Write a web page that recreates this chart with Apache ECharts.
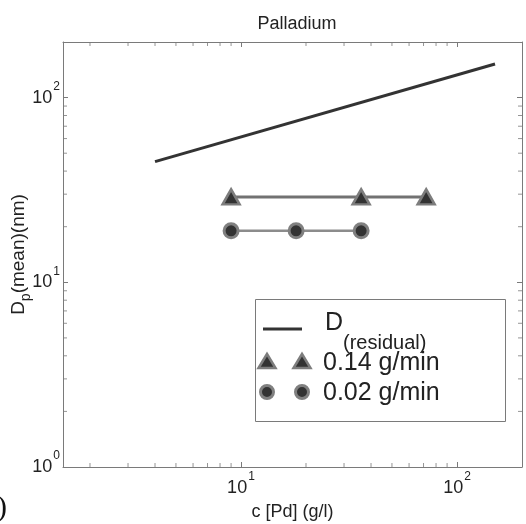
<!DOCTYPE html>
<html>
<head>
<meta charset="utf-8">
<script src="https://cdn.jsdelivr.net/npm/echarts@6/dist/echarts.min.js"></script>
<style>
html,body{margin:0;padding:0;background:#fff;}
#chart{width:526px;height:524px;}
</style>
</head>
<body>
<div id="chart"></div>
<script>
var xMin = 1.5, xMax = 200, yMin = 1, yMax = 200;

// D(residual)
var residualX = [4, 150];
var residualY = [45, 152];
// 0.14 g/min
var highX = [9, 36, 72];
var highY = [29, 29, 29];
// 0.02 g/min
var lowX = [9, 18, 36];
var lowY = [19, 19, 19];

// minor ticks (MATLAB style 2..9 per decade)
var xMinorTicks = [2, 3, 4, 5, 6, 7, 8, 9, 20, 30, 40, 50, 60, 70, 80, 90];
var yMinorTicks = [2, 3, 4, 5, 6, 7, 8, 9, 20, 30, 40, 50, 60, 70, 80, 90];

var font = "'Liberation Sans', Arial, sans-serif";
var axisColor = '#7a7a7a';

function pairs(xs, ys) {
    var out = [];
    for (var i = 0; i < xs.length; i++) out.push([xs[i], ys[i]]);
    return out;
}

function powLabel(v) {
    var e = Math.round(Math.log(v) / Math.LN10);
    if (Math.abs(Math.log(v) / Math.LN10 - e) > 1e-6) return '';
    return '{b|10}{s|' + e + '}';
}

var labelRich = {
    b: {fontSize: 18, fontFamily: font, color: '#222', verticalAlign: 'middle'},
    s: {fontSize: 12, fontFamily: font, color: '#222', verticalAlign: 'middle', padding: [0, 0, 22, 1]}
};

function tickSeries(data, size, offset) {
    return {
        type: 'scatter',
        data: data,
        symbol: 'rect',
        symbolSize: size,
        symbolOffset: offset,
        itemStyle: {color: axisColor},
        silent: true,
        clip: false,
        z: 1
    };
}

var bottomTicks = xMinorTicks.map(function (v) { return [v, yMin]; });
var topTicks = xMinorTicks.map(function (v) { return [v, yMax]; });
var leftTicks = yMinorTicks.map(function (v) { return [xMin, v]; });
var rightTicks = yMinorTicks.map(function (v) { return [xMax, v]; });

function logAxis(pos, min, max, showLabel) {
    return {
        type: 'log',
        logBase: 10,
        position: pos,
        min: min,
        max: max,
        axisLine: {show: true, onZero: false, lineStyle: {color: axisColor, width: 1}},
        axisTick: {show: true, inside: true, length: 5, lineStyle: {color: axisColor}},
        splitLine: {show: false},
        minorTick: {show: false},
        axisLabel: {show: showLabel, formatter: powLabel, rich: labelRich, margin: 4}
    };
}

var xBottom = logAxis('bottom', xMin, xMax, true);
xBottom.name = 'c [Pd] (g/l)';
xBottom.nameLocation = 'middle';
xBottom.nameGap = 36;
xBottom.nameMoveOverlap = false;
xBottom.nameTextStyle = {fontSize: 18, fontFamily: font, color: '#222'};

var yLeft = logAxis('left', yMin, yMax, true);
yLeft.axisLabel.margin = 3;
yLeft.name = 'D{sub|p}(mean)(nm)';
yLeft.nameLocation = 'middle';
yLeft.nameRotate = 90;
yLeft.nameGap = 30;
yLeft.nameMoveOverlap = false;
yLeft.nameTextStyle = {
    fontSize: 19, fontFamily: font, color: '#222',
    rich: {sub: {fontSize: 14, fontFamily: font, color: '#222', padding: [14, 0, 0, 0]}}
};

var chart = echarts.init(document.getElementById('chart'));
var option = {
    animation: false,
    backgroundColor: '#fff',
    title: {
        text: 'Palladium',
        left: 292,
        top: 10,
        textAlign: 'center',
        textStyle: {fontSize: 18, fontWeight: 'normal', fontFamily: font, color: '#222'}
    },
    grid: {left: 63, right: 4, top: 42, bottom: 57, containLabel: false, outerBoundsMode: 'none'},
    xAxis: [xBottom, logAxis('top', xMin, xMax, false)],
    yAxis: [yLeft, logAxis('right', yMin, yMax, false)],
    series: [
        {
            name: 'D(residual)',
            type: 'line',
            data: pairs(residualX, residualY),
            showSymbol: false,
            lineStyle: {color: '#333', width: 3},
            z: 3
        },
        {
            name: '0.14 g/min',
            type: 'line',
            data: pairs(highX, highY),
            symbol: 'triangle',
            symbolSize: [17, 15],
            lineStyle: {color: '#727272', width: 3},
            itemStyle: {color: '#333', borderColor: '#7d7d7d', borderWidth: 2.5},
            z: 3
        },
        {
            name: '0.02 g/min',
            type: 'line',
            data: pairs(lowX, lowY),
            symbol: 'circle',
            symbolSize: 14,
            lineStyle: {color: '#8c8c8c', width: 2.5},
            itemStyle: {color: '#333', borderColor: '#808080', borderWidth: 3},
            z: 3
        },
        tickSeries(bottomTicks, [1, 4], [0, -2]),
        tickSeries(topTicks, [1, 4], [0, 2]),
        tickSeries(leftTicks, [4, 1], [2, 0]),
        tickSeries(rightTicks, [4, 1], [-2, 0])
    ],
    graphic: [
        // legend box
        {type: 'rect', shape: {x: 255.5, y: 299.5, width: 250, height: 122},
         style: {fill: '#fff', stroke: axisColor, lineWidth: 1}, z: 10},
        {type: 'line', shape: {x1: 263, y1: 329, x2: 302, y2: 329},
         style: {stroke: '#333', lineWidth: 3}, z: 11},
        {type: 'text', left: 325, top: 311, z: 11,
         style: {text: 'D', font: '25px ' + font, fill: '#222'}},
        {type: 'text', left: 343, top: 333, z: 11,
         style: {text: '(residual)', font: '20px ' + font, fill: '#222'}},
        {type: 'polygon', shape: {points: [[267, 354], [275.5, 368], [258.5, 368]]},
         style: {fill: '#333', stroke: '#7d7d7d', lineWidth: 2.5}, z: 11},
        {type: 'polygon', shape: {points: [[302, 354], [310.5, 368], [293.5, 368]]},
         style: {fill: '#333', stroke: '#7d7d7d', lineWidth: 2.5}, z: 11},
        {type: 'text', left: 323, top: 351, z: 11,
         style: {text: '0.14 g/min', font: '25px ' + font, fill: '#222'}},
        {type: 'circle', shape: {cx: 267, cy: 392, r: 6.5},
         style: {fill: '#333', stroke: '#808080', lineWidth: 3}, z: 11},
        {type: 'circle', shape: {cx: 302, cy: 392, r: 6.5},
         style: {fill: '#333', stroke: '#808080', lineWidth: 3}, z: 11},
        {type: 'text', left: 323, top: 381, z: 11,
         style: {text: '0.02 g/min', font: '25px ' + font, fill: '#222'}},
        // panel label fragment at the left edge
        {type: 'text', left: -3, top: 493, z: 11,
         style: {text: ')', font: "30px 'Liberation Serif', serif", fill: '#111'}}
    ]
};
chart.setOption(option);
</script>
</body>
</html>
